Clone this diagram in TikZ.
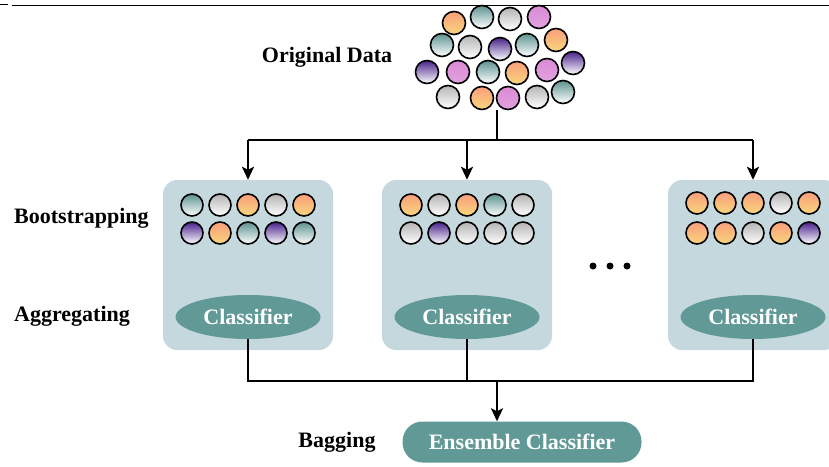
\documentclass[tikz,border=0pt]{standalone}
\usepackage{fontspec}
\setmainfont{Liberation Serif}
\usetikzlibrary{arrows.meta,positioning,shapes.geometric}
\definecolor{boxbg}{RGB}{197,216,221}
\definecolor{clsfill}{RGB}{96,153,150}
\definecolor{pchA}{RGB}{250,158,124}
\definecolor{pchB}{RGB}{248,214,124}
\definecolor{teaA}{RGB}{92,146,144}
\definecolor{teaB}{RGB}{150,190,187}
\definecolor{gryA}{RGB}{180,180,180}
\definecolor{gryB}{RGB}{222,222,222}
\definecolor{pnkA}{RGB}{218,138,214}
\definecolor{prpA}{RGB}{72,34,140}
\definecolor{prpB}{RGB}{130,95,200}

\tikzset{
  lbl/.style={font=\fontsize{22}{24}\selectfont\bfseries, inner sep=0pt},
  bagbox/.style={fill=boxbg, rounded corners=14pt, minimum width=170pt, minimum height=170pt},
  clsnode/.style={ellipse, fill=clsfill, text=white, inner sep=0pt,
    font=\fontsize{22}{24}\selectfont\bfseries, minimum width=145pt, minimum height=44pt},
  ensnode/.style={rectangle, rounded corners=20pt, fill=clsfill, text=white, inner sep=0pt,
    font=\fontsize{22}{24}\selectfont\bfseries, minimum width=239pt, minimum height=41pt},
  link/.style={line width=2.2pt},
  arr/.style={link, -{Stealth[length=13pt,width=12pt,inset=3pt]}},
  ball/.style={draw=black, line width=1.6pt, shading angle=45},
  pch/.style={ball, top color=pchA, middle color=pchA, bottom color=pchB},
  tea/.style={ball, top color=teaA, middle color=teaB, bottom color=white},
  gry/.style={ball, top color=gryA, middle color=gryB, bottom color=white},
  pnk/.style={ball, top color=pnkA, middle color=pnkA, bottom color=pnkA!80!white},
  prp/.style={ball, top color=prpA, middle color=prpB, bottom color=white}
}

\begin{document}
\begin{tikzpicture}[x=1pt,y=-1pt]
\clip (0,0) rectangle (829,466);
\useasboundingbox (0,0) rectangle (829,466);
\draw[line width=1pt] (12,5) -- (829,5);
\draw[line width=1.5pt] (0,4.5) -- (8,4.5);

% original data
\foreach \x/\y/\c in {454/23/pch, 482/17/tea, 510/19/gry, 539/17/pnk,
    442/45/tea, 470/47/gry, 500/49/prp, 527/45/tea, 556/40/pch,
    427/72/prp, 458/72/pnk, 488/72/tea, 517/73/pch, 547/70/pnk, 573/63/prp,
    448/97/gry, 482/98/pch, 508/98/pnk, 537/97/gry, 563/92/tea}
  \draw[\c] (\x,\y) circle [radius=11.5];
\node[lbl] (orig) at (327,57) {Original Data};
\coordinate (data) at (497,110);
\coordinate (split) at (497,140);

% bootstrap samples
\node[bagbox] (box1) at (248,265) {};
\node[bagbox] (box2) at (467,265) {};
\node[bagbox] (box3) at (753,265) {};
\foreach \x/\c in {-56/tea, -28/gry, 0/pch, 28/gry, 56/pch}
  \draw[\c] ([shift={(\x,-60)}]box1.center) circle [radius=11];
\foreach \x/\c in {-56/prp, -28/pch, 0/tea, 28/prp, 56/tea}
  \draw[\c] ([shift={(\x,-32)}]box1.center) circle [radius=11];
\foreach \x/\c in {-56/pch, -28/gry, 0/pch, 28/tea, 56/gry}
  \draw[\c] ([shift={(\x,-60)}]box2.center) circle [radius=11];
\foreach \x/\c in {-56/gry, -28/prp, 0/gry, 28/gry, 56/gry}
  \draw[\c] ([shift={(\x,-32)}]box2.center) circle [radius=11];
\foreach \x/\c in {-56/pch, -28/pch, 0/pch, 28/gry, 56/pch}
  \draw[\c] ([shift={(\x,-62)}]box3.center) circle [radius=11];
\foreach \x/\c in {-56/pch, -28/pch, 0/gry, 28/pch, 56/prp}
  \draw[\c] ([shift={(\x,-32)}]box3.center) circle [radius=11];

\node[clsnode] (cls1) at (248,317) {Classifier};
\node[clsnode] (cls2) at (467,317) {Classifier};
\node[clsnode] (cls3) at (753,317) {Classifier};
\fill (593,266) circle [radius=3.5];
\fill (610,266) circle [radius=3.5];
\fill (627,266) circle [radius=3.5];

\node[lbl, anchor=west] (boot) at (14,218) {Bootstrapping};
\node[lbl, anchor=west] (aggr) at (14,316) {Aggregating};

% bagging
\node[ensnode] (ens) at (522,442) {Ensemble Classifier};
\node[lbl] (bag) at (337,442) {Bagging};
\coordinate (join) at (497,381);

\draw[link] (data) -- (split);
\draw[link] (box1.north |- split) -- (box3.north |- split);
\draw[arr] (box1.north |- split) -- (box1.north);
\draw[arr] (box2.north |- split) -- (box2.north);
\draw[arr] (box3.north |- split) -- (box3.north);
\draw[link] (cls1.south) -- (cls1.south |- join) -- (cls3.south |- join) -- (cls3.south);
\draw[link] (cls2.south) -- (cls2.south |- join);
\draw[arr] (join) -- (join |- ens.north);
\end{tikzpicture}
\end{document}
